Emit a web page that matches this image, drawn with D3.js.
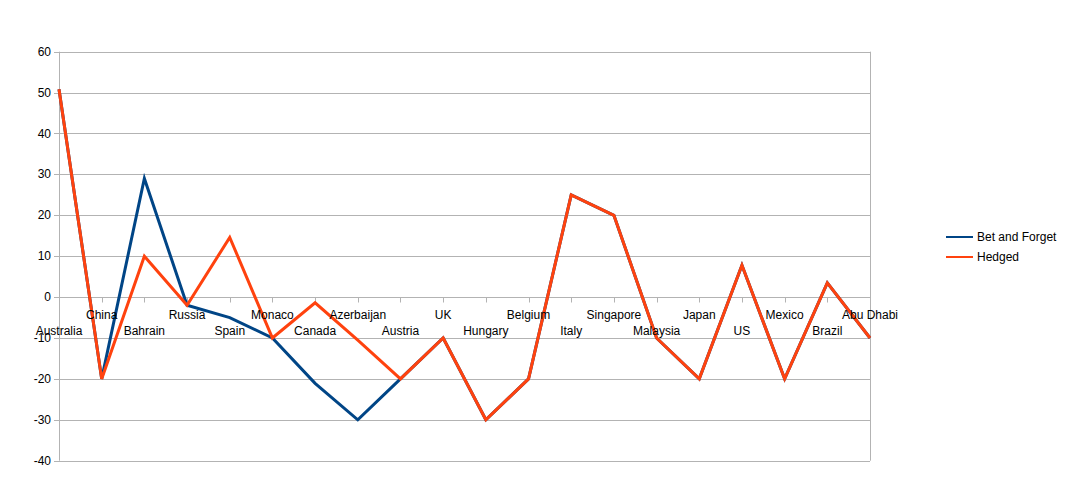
<!DOCTYPE html>
<html>
<head>
<meta charset="utf-8">
<script src="https://cdn.jsdelivr.net/npm/d3@7"></script>
<style>
  body { margin: 0; background: #fff; }
  text { font-family: "Liberation Sans", Arial, sans-serif; font-size: 12px; fill: #000; }
</style>
</head>
<body>
<div class="chart"></div>
<script>
var width = 1067,
    height = 489;

var races = ["Australia", "China", "Bahrain", "Russia", "Spain", "Monaco", "Canada", "Azerbaijan", "Austria", "UK",
    "Hungary", "Belgium", "Italy", "Singapore", "Malaysia", "Japan", "US", "Mexico", "Brazil", "Abu Dhabi"];
var betAndForget = [50.8, -20, 29, -2, -5, -10, -21.1, -30, -20, -10, -30, -20, 25, 20, -10, -20, 7.8, -20, 3.5, -10];
var hedged = [50.8, -20, 10, -2, 14.6, -10, -1.4, -10.5, -20, -10, -30, -20, 25, 20, -10, -20, 7.8, -20, 3.5, -10];
var yTicks = [60, 50, 40, 30, 20, 10, 0, -10, -20, -30, -40];
var seriesNames = ["Bet and Forget", "Hedged"];

var colors = ["#004586", "#ff420e"];
var plot = { left: 59, right: 870, top: 51.7, bottom: 460.7 };

let svg = d3.select(".chart")
    .append("svg")
    .attr("width", width)
    .attr("height", height);

let x = d3.scalePoint()
    .domain(races)
    .range([plot.left, plot.right])
    .padding(0);

let y = d3.scaleLinear()
    .domain([-40, 60])
    .range([plot.bottom, plot.top]);

// grid lines
svg.append("g")
    .selectAll("line")
    .data(yTicks)
    .join("line")
    .attr("x1", plot.left - 5)
    .attr("x2", plot.right)
    .attr("y1", d => Math.round(y(d)) + 0.5)
    .attr("y2", d => Math.round(y(d)) + 0.5)
    .attr("stroke", "#b3b3b3")
    .attr("stroke-width", 1);

// left and right frame
svg.append("line")
    .attr("x1", plot.left + 0.5).attr("x2", plot.left + 0.5)
    .attr("y1", plot.top).attr("y2", plot.bottom)
    .attr("stroke", "#b3b3b3");
svg.append("line")
    .attr("x1", plot.right + 0.5).attr("x2", plot.right + 0.5)
    .attr("y1", plot.top).attr("y2", plot.bottom)
    .attr("stroke", "#b3b3b3");

// y labels
svg.append("g")
    .selectAll("text")
    .data(yTicks)
    .join("text")
    .attr("x", plot.left - 8)
    .attr("y", d => y(d) + 4)
    .attr("text-anchor", "end")
    .text(d => d);

// x axis at zero
let zeroY = Math.round(y(0)) + 0.5;
svg.append("g")
    .selectAll("line")
    .data(races)
    .join("line")
    .attr("x1", d => Math.round(x(d)) + 0.5)
    .attr("x2", d => Math.round(x(d)) + 0.5)
    .attr("y1", zeroY)
    .attr("y2", zeroY + 5)
    .attr("stroke", "#b3b3b3");

// series lines
let line = d3.line()
    .x((d, i) => x(races[i]))
    .y(d => y(d));

[betAndForget, hedged].forEach(function(values, k){
    svg.append("path")
        .datum(values)
        .attr("d", line)
        .attr("fill", "none")
        .attr("stroke", colors[k])
        .attr("stroke-width", 3)
        .attr("stroke-linejoin", "miter");
});

// category labels, staggered
svg.append("g")
    .selectAll("text")
    .data(races)
    .join("text")
    .attr("x", d => x(d))
    .attr("y", (d, i) => i % 2 === 1 ? zeroY + 21 : zeroY + 37)
    .attr("text-anchor", "middle")
    .text(d => d);

// legend
let legend = svg.append("g")
    .selectAll("g")
    .data(seriesNames)
    .join("g")
    .attr("transform", (d, i) => `translate(946, ${237 + i * 20})`);

legend.append("line")
    .attr("x1", 0).attr("x2", 27)
    .attr("y1", 0).attr("y2", 0)
    .attr("stroke", (d, i) => colors[i])
    .attr("stroke-width", 2);

legend.append("text")
    .attr("x", 31)
    .attr("y", 4)
    .text(d => d);
</script>
</body>
</html>
